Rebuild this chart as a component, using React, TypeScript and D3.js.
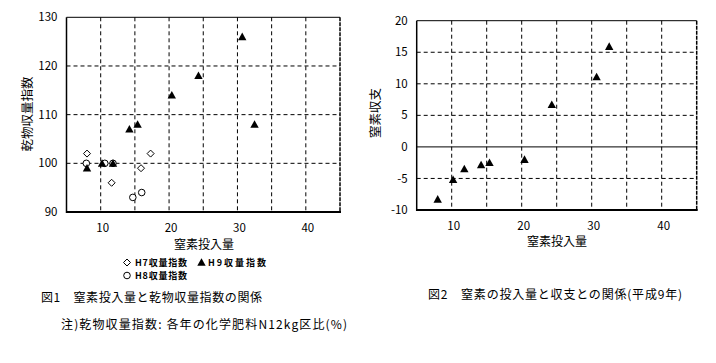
import React from "react";
import * as d3 from "d3";

// ---- Data ----
const h7N = [8, 11.6, 15.9, 17.3];
const h7Yield = [102, 96, 99, 102];
const h8N = [7.9, 10.6, 11.8, 14.7, 16.0];
const h8Yield = [100, 100, 100, 93, 94];
const h9N = [8, 10.2, 11.8, 14.2, 15.4, 20.4, 24.3, 30.7, 32.5];
const h9Yield = [99, 100, 100, 107, 108, 114, 118, 126, 108];
const h9Balance = [-8.3, -5.2, -3.5, -2.85, -2.5, -2.0, 6.7, 11.1, 15.9];

const xTicksMajor = [10, 20, 30, 40];
const xGrid = [10, 15, 20, 25, 30, 35, 40];
const yTicks1 = [90, 100, 110, 120, 130];
const yTicks2 = [-10, -5, 0, 5, 10, 15, 20];

const FONT = "'Noto Sans CJK JP', 'DejaVu Sans', sans-serif";

function Triangle({ x, y }: { x: number; y: number }) {
  const s = 4.2;
  return (
    <path
      d={`M${x},${y - s}L${x + s},${y + s * 0.8}L${x - s},${y + s * 0.8}Z`}
      fill="#000"
    />
  );
}
function Diamond({ x, y }: { x: number; y: number }) {
  const s = 3.5;
  return (
    <path
      d={`M${x},${y - s}L${x + s},${y}L${x},${y + s}L${x - s},${y}Z`}
      fill="#fff"
      stroke="#000"
      strokeWidth={1}
    />
  );
}
function Circle({ x, y }: { x: number; y: number }) {
  return <circle cx={x} cy={y} r={3.3} fill="#fff" stroke="#000" strokeWidth={1} />;
}

export default function App() {
  // Chart 1 scales
  const x1 = d3.scaleLinear().domain([5, 45]).range([66.5, 340]);
  const y1 = d3.scaleLinear().domain([90, 130]).range([212, 17.3]);
  // Chart 2 scales
  const x2 = d3.scaleLinear().domain([5, 45]).range([416.7, 696.7]);
  const y2 = d3.scaleLinear().domain([-10, 20]).range([210, 20.7]);

  const grid = (
    xs: d3.ScaleLinear<number, number>,
    ys: d3.ScaleLinear<number, number>,
    yt: number[],
    key: string,
    skipZero: boolean
  ) => {
    const [l, r] = xs.range();
    const [b, t] = ys.range();
    return (
      <g key={key}>
        {xGrid.map((v) => (
          <line key={"gx" + v} x1={xs(v)} x2={xs(v)} y1={t} y2={b} stroke="#000" strokeDasharray="4,3" strokeWidth={1} />
        ))}
        {yt
          .filter((v) => v !== ys.domain()[0] && v !== ys.domain()[1])
          .map((v) =>
            skipZero && v === 0 ? (
              <line key={"gy" + v} x1={l} x2={r} y1={ys(v)} y2={ys(v)} stroke="#000" strokeWidth={1} />
            ) : (
              <line key={"gy" + v} x1={l} x2={r} y1={ys(v)} y2={ys(v)} stroke="#000" strokeDasharray="4,3" strokeWidth={1} />
            )
          )}
        <line x1={l} x2={r} y1={t} y2={t} stroke="#000" strokeWidth={1} />
        <line x1={r} x2={r} y1={t} y2={b} stroke="#000" strokeWidth={1.5} strokeDasharray="4,1" />
        <line x1={l} x2={l} y1={t} y2={b + 1} stroke="#000" strokeWidth={1.5} />
        <line x1={l} x2={r + 1} y1={b} y2={b} stroke="#000" strokeWidth={2} />
        {yt.map((v) => (
          <text key={"yl" + v} x={l - 9} y={ys(v)} dy="0.36em" textAnchor="end" fontSize={11.5} fontFamily={FONT} fill="#000">
            {v}
          </text>
        ))}
        {xTicksMajor.map((v) => (
          <text key={"xl" + v} x={xs(v) + 2} y={b + 16} dy="0.36em" textAnchor="middle" fontSize={11.5} fontFamily={FONT} fill="#000">
            {v}
          </text>
        ))}
      </g>
    );
  };

  return (
    <svg width={716} height={363} style={{ position: "absolute", left: 0, top: 0, background: "#fff" }}>
      <rect width={716} height={363} fill="#fff" />
      {grid(x1, y1, yTicks1, "g1", false)}
      {grid(x2, y2, yTicks2, "g2", true)}

      {/* Chart 1 markers */}
      {h7N.map((n, i) => (
        <Diamond key={"d" + i} x={x1(n)} y={y1(h7Yield[i])} />
      ))}
      {h8N.map((n, i) => (
        <Circle key={"c" + i} x={x1(n)} y={y1(h8Yield[i])} />
      ))}
      {h9N.map((n, i) => (
        <Triangle key={"t" + i} x={x1(n)} y={y1(h9Yield[i])} />
      ))}

      {/* Chart 2 markers */}
      {h9N.map((n, i) => (
        <Triangle key={"t2" + i} x={x2(n)} y={y2(h9Balance[i])} />
      ))}

      {/* Axis titles */}
      <text x={204} y={245} dy="0.36em" textAnchor="middle" fontSize={12} fontFamily={FONT} fill="#000">窒素投入量</text>
      <text transform="translate(27,114) rotate(-90)" dy="0.36em" textAnchor="middle" fontSize={12.5} fontFamily={FONT} fill="#000">乾物収量指数</text>
      <text x={557} y={242} dy="0.36em" textAnchor="middle" fontSize={12} fontFamily={FONT} fill="#000">窒素投入量</text>
      <text transform="translate(375,113) rotate(-90)" dy="0.36em" textAnchor="middle" fontSize={12.5} fontFamily={FONT} fill="#000">窒素収支</text>

      {/* Legend */}
      <Diamond x={127} y={262.5} />
      <text x={135} y={262.5} dy="0.36em" fontSize={9} fontWeight="bold" fontFamily={FONT} fill="#000" textLength={52} lengthAdjust="spacing">H7収量指数</text>
      <Triangle x={201.5} y={262.5} />
      <text x={208} y={262.5} dy="0.36em" fontSize={9} fontWeight="bold" fontFamily={FONT} fill="#000" textLength={58} lengthAdjust="spacing">H9収量指数</text>
      <Circle x={127} y={275.5} />
      <text x={135} y={275.5} dy="0.36em" fontSize={9} fontWeight="bold" fontFamily={FONT} fill="#000" textLength={52} lengthAdjust="spacing">H8収量指数</text>

      {/* Captions */}
      <text x={41} y={298} dy="0.36em" fontSize={12} fontFamily={FONT} fill="#000" textLength={221} lengthAdjust="spacing">図1　窒素投入量と乾物収量指数の関係</text>
      <text x={61} y={325} dy="0.36em" fontSize={12} fontFamily={FONT} fill="#000" textLength={286} lengthAdjust="spacing">注)乾物収量指数: 各年の化学肥料N12kg区比(%)</text>
      <text x={428} y={295} dy="0.36em" fontSize={12} fontFamily={FONT} fill="#000" textLength={254} lengthAdjust="spacing">図2　窒素の投入量と収支との関係(平成9年)</text>
    </svg>
  );
}
